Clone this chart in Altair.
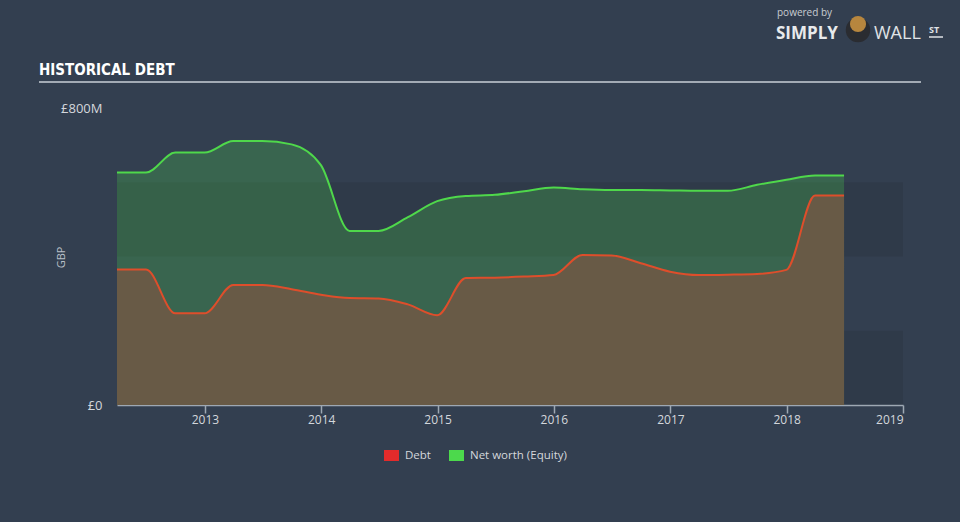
import altair as alt
import pandas as pd

# ---------------- data ----------------
dates = [
    "2012-03-31", "2012-06-30", "2012-09-30", "2012-12-31",
    "2013-03-31", "2013-06-30", "2013-09-30", "2013-12-31",
    "2014-03-31", "2014-06-30", "2014-09-30", "2014-12-31",
    "2015-03-31", "2015-06-30", "2015-09-30", "2015-12-31",
    "2016-03-31", "2016-06-30", "2016-09-30", "2016-12-31",
    "2017-03-31", "2017-06-30", "2017-09-30", "2017-12-31",
    "2018-03-31", "2018-06-30",
]
debt = [365, 365, 247, 247, 323, 323, 312, 297, 288, 287, 271, 242,
        342, 343, 346, 350, 404, 403, 382, 359, 350, 351, 353, 364,
        564, 564]
equity = [626, 626, 680, 680, 711, 711, 702, 646, 469, 469, 506, 549,
          563, 566, 576, 586, 581, 579, 579, 578, 577, 577, 593, 607,
          618, 618]
series_names = ["Debt", "Net worth (Equity)"]
y_tick_values = [0, 800]
x_tick_years = [2013, 2014, 2015, 2016, 2017, 2018, 2019]
band_low = [0, 400]
band_high = [200, 600]

df = pd.DataFrame({"date": dates, "debt": debt, "equity": equity})
long_df = pd.DataFrame({
    "date": dates + dates,
    "value": debt + equity,
    "series": [series_names[0]] * len(dates) + [series_names[1]] * len(dates),
})
bands_df = pd.DataFrame({"lo": band_low, "hi": band_high})

# ---------------- style ----------------
BG = "#333f50"
TXT = "#d3d7dc"
AXIS = "#9ea8b3"
GREEN = "#4fd84b"
RED_LINE = "#de4e2b"
LEG_RED = "#e32b2b"
LEG_GREEN = "#4cd94c"
HATCH = "#685a46"
FONT = "Open Sans"
COND = "'Liberation Sans Narrow', 'DejaVu Sans Condensed', 'Roboto Condensed', sans-serif"

x_scale = alt.Scale(
    type="utc",
    domain=[alt.DateTime(year=2012, month=3, date=31, utc=True),
            alt.DateTime(year=2019, month=1, date=1, utc=True)],
    nice=False,
)
y_scale = alt.Scale(domain=[0, 800], nice=False)

x_axis = alt.Axis(
    values=[alt.DateTime(year=y, utc=True) for y in x_tick_years],
    labelExpr="utcFormat(datum.value, '%Y')",
    title=None, grid=False,
    domainColor=AXIS, domainWidth=1.5, tickColor=AXIS, tickWidth=1.5, tickSize=8,
    labelColor=TXT, labelFont=FONT, labelFontSize=12, labelPadding=1,
)
y_axis = alt.Axis(
    values=y_tick_values,
    labelExpr="datum.value == 0 ? '£0' : '£' + datum.value + 'M'",
    domain=False, ticks=False, grid=False,
    labelColor=TXT, labelFont=FONT, labelFontSize=13, labelPadding=15,
    title="GBP", titleColor="#b9c0c8", titleFont=FONT, titleFontSize=11,
    titleFontWeight="normal", titleAngle=270, titleX=-56, titleY=149,
    titleAlign="center", titleBaseline="middle",
)

X = alt.X("date:T", scale=x_scale, axis=x_axis)

bands = alt.Chart(bands_df).mark_rect(color="black", opacity=0.08).encode(
    y=alt.Y("lo:Q", scale=y_scale, axis=y_axis),
    y2="hi:Q",
)

base = alt.Chart(df)
eq_area = base.mark_area(interpolate="monotone", color=LEG_GREEN, opacity=0.25).encode(
    x=X, y=alt.Y("equity:Q", scale=y_scale)
)
debt_area = base.mark_area(interpolate="monotone", color=HATCH, opacity=1).encode(
    x=X, y=alt.Y("debt:Q", scale=y_scale)
)
eq_line = base.mark_line(interpolate="monotone", color=GREEN, strokeWidth=2).encode(
    x=X, y=alt.Y("equity:Q", scale=y_scale)
)
debt_line = base.mark_line(interpolate="monotone", color=RED_LINE, strokeWidth=2).encode(
    x=X, y=alt.Y("debt:Q", scale=y_scale)
)

legend_layer = alt.Chart(long_df).mark_square(opacity=0, size=10).encode(
    x=X,
    y=alt.Y("value:Q", scale=y_scale),
    color=alt.Color(
        "series:N",
        scale=alt.Scale(domain=series_names, range=[LEG_RED, LEG_GREEN]),
        legend=alt.Legend(
            title=None, orient="none", legendX=267, legendY=340,
            direction="horizontal", padding=0,
            symbolType="M-1,-0.73H1V0.73H-1Z", symbolSize=225,
            symbolOpacity=1, symbolStrokeWidth=0,
            labelColor=TXT, labelFont=FONT, labelFontSize=11.5,
            labelOffset=6, columnPadding=18,
        ),
    ),
)

one = alt.Data(values=[{"k": 1}])
title_txt = alt.Chart(one).mark_text(
    text="HISTORICAL DEBT", align="left", baseline="alphabetic",
    font=COND, fontWeight="bold", fontSize=15, color="#ffffff",
).encode(x=alt.value(-78), y=alt.value(-33))
title_rule = alt.Chart(one).mark_rule(color="#a3abb5", strokeWidth=2).encode(
    x=alt.value(-78), x2=alt.value(804), y=alt.value(-26)
)

powered = alt.Chart(one).mark_text(
    text="powered by", align="left", baseline="alphabetic",
    font=FONT, fontSize=10, color="#c8cdd2",
).encode(x=alt.value(660), y=alt.value(-92))
simply = alt.Chart(one).mark_text(
    text="SIMPLY", align="left", baseline="alphabetic",
    font=FONT, fontWeight="bold", fontSize=17, color="#e8eaec",
).encode(x=alt.value(659), y=alt.value(-69))
wall = alt.Chart(one).mark_text(
    text="WALL", align="left", baseline="alphabetic",
    font=FONT, fontSize=18, color="#e0e3e6",
).encode(x=alt.value(757), y=alt.value(-69))
st = alt.Chart(one).mark_text(
    text="ST", align="left", baseline="alphabetic",
    font=FONT, fontWeight="bold", fontSize=9, color="#e0e3e6",
).encode(x=alt.value(812), y=alt.value(-75))
st_rule = alt.Chart(one).mark_rule(color="#e0e3e6", strokeWidth=1.5).encode(
    x=alt.value(812), x2=alt.value(826), y=alt.value(-71)
)
bull_body = alt.Chart(one).mark_circle(color="#2a2c31", opacity=1, size=600).encode(
    x=alt.value(741), y=alt.value(-78)
)
bull_head = alt.Chart(one).mark_circle(color="#b7863e", opacity=1, size=260).encode(
    x=alt.value(741), y=alt.value(-84)
)

chart = alt.layer(
    bands, eq_area, debt_area, eq_line, debt_line, legend_layer,
    title_txt, title_rule, powered, simply, wall, st, st_rule, bull_body, bull_head,
).properties(
    width=786, height=297,
    padding={"left": 117, "top": 108, "right": 57, "bottom": 117},
    autosize=alt.AutoSizeParams(type="none"),
    background=BG,
).configure_view(stroke=None)

chart.save("out.html", embed_options={"renderer": "svg", "actions": False})
